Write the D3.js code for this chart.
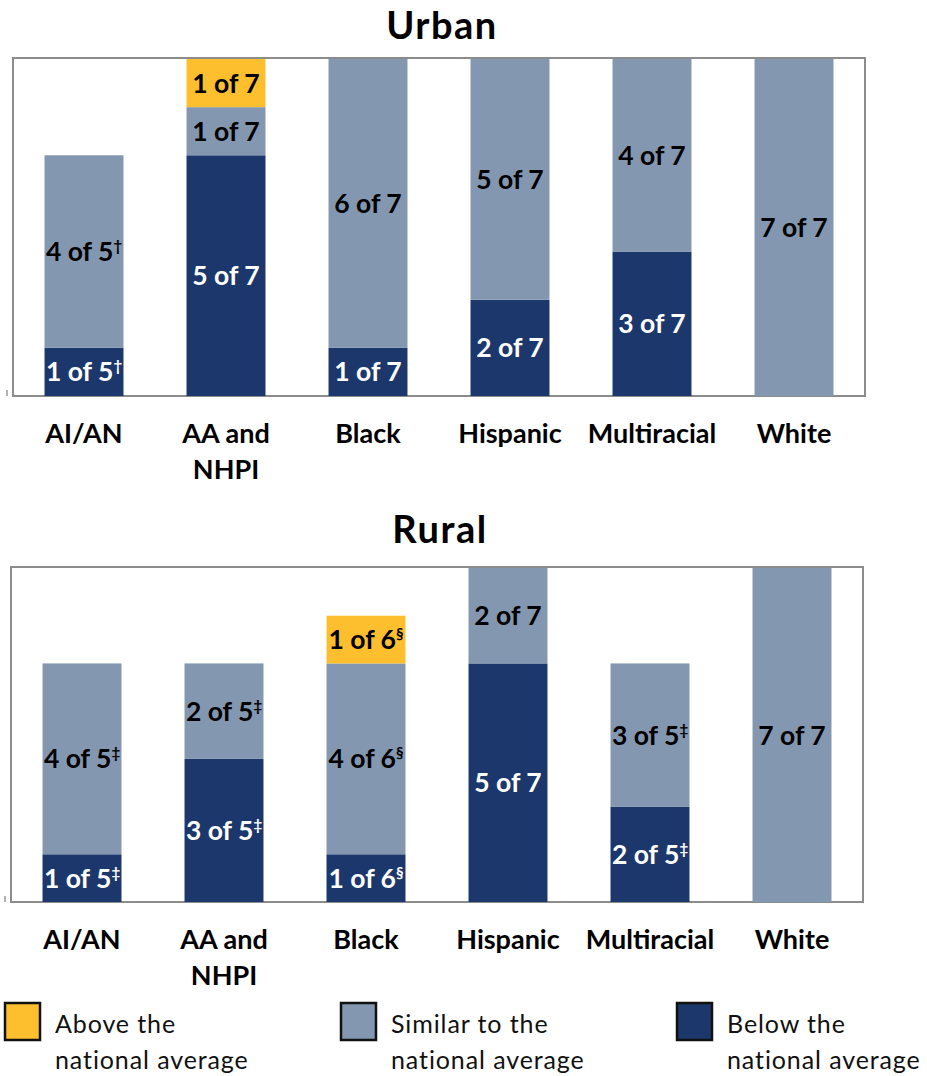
<!DOCTYPE html>
<html>
<head>
<meta charset="utf-8">
<script src="https://cdn.jsdelivr.net/npm/d3@7"></script>
<style>
  html, body { margin: 0; padding: 0; background: #fff; }
  svg { display: block; font-family: Lato, "Open Sans", sans-serif; }
</style>
</head>
<body>
<svg id="chart" width="927" height="1076"></svg>
<script>
// ---------- data ----------
const categories = ["AI/AN", "AA and\nNHPI", "Black", "Hispanic", "Multiracial", "White"];
const seriesKeys = ["below", "similar", "above"];
const seriesNames = ["Below the\nnational average", "Similar to the\nnational average", "Above the\nnational average"];

const urbanBelow   = [1, 5, 1, 2, 3, 0];
const urbanSimilar = [4, 1, 6, 5, 4, 7];
const urbanAbove   = [0, 1, 0, 0, 0, 0];
const urbanTotal   = [5, 7, 7, 7, 7, 7];
const urbanMark    = ["\u2020", "", "", "", "", ""];

const ruralBelow   = [1, 3, 1, 5, 2, 0];
const ruralSimilar = [4, 2, 4, 2, 3, 7];
const ruralAbove   = [0, 0, 1, 0, 0, 0];
const ruralTotal   = [5, 5, 6, 7, 5, 7];
const ruralMark    = ["\u2021", "\u2021", "\u00A7", "", "\u2021", ""];

const yMax = 7;

// ---------- style ----------
const colors = { below: "#1c376b", similar: "#8497b0", above: "#fdbf2d" };
const textColors = { below: "#ffffff", similar: "#000000", above: "#000000" };
const frameColor = "#8c8c8c";

const svg = d3.select("#chart");

function buildRows(below, similar, above, total, mark) {
  return categories.map((c, i) => ({
    cat: c, below: below[i], similar: similar[i], above: above[i], total: total[i], mark: mark[i]
  }));
}

function drawPanel(opts) {
  const { title, titleY, x0, x1, yTop, yBottom, rows } = opts;
  const x = d3.scaleBand().domain(categories).range([x0, x1]).paddingInner(0.444).paddingOuter(0.222);
  const y = d3.scaleLinear().domain([0, yMax]).range([yBottom, yTop]);
  const g = svg.append("g");

  // title
  g.append("text")
    .attr("x", (x0 + x1) / 2 + 3).attr("y", titleY)
    .attr("text-anchor", "middle")
    .attr("font-size", 38).attr("font-weight", 700).attr("letter-spacing", 1.5)
    .text(title);

  // frame
  g.append("rect")
    .attr("x", x0).attr("y", yTop - 1)
    .attr("width", x1 - x0).attr("height", yBottom - yTop + 1)
    .attr("fill", "#fff").attr("stroke", frameColor).attr("stroke-width", 2);

  // small stub tick
  g.append("line")
    .attr("x1", x0 - 6).attr("x2", x0 - 6)
    .attr("y1", y(0) - 6).attr("y2", y(0))
    .attr("stroke", "#999").attr("stroke-width", 1.5);

  const stack = d3.stack().keys(seriesKeys);
  const layers = stack(rows);

  const layerG = g.selectAll("g.layer").data(layers).join("g").attr("class", "layer")
    .attr("fill", d => colors[d.key]);

  layerG.selectAll("rect").data(d => d.filter(s => s[1] - s[0] > 0))
    .join("rect")
    .attr("x", d => x(d.data.cat))
    .attr("width", x.bandwidth())
    .attr("y", d => y(d[1]))
    .attr("height", d => y(d[0]) - y(d[1]));

  // labels
  layers.forEach(layer => {
    layer.filter(s => s[1] - s[0] > 0).forEach(s => {
      const cy = (y(s[0]) + y(s[1])) / 2;
      const t = g.append("text")
        .attr("x", x(s.data.cat) + x.bandwidth() / 2)
        .attr("y", cy + 9.5)
        .attr("text-anchor", "middle")
        .attr("font-size", 26.5).attr("font-weight", 700)
        .attr("fill", textColors[layer.key]);
      t.append("tspan").text((s[1] - s[0]) + " of " + s.data.total);
      if (s.data.mark) {
        t.append("tspan").attr("dy", -10).attr("font-size", 15).text(s.data.mark);
      }
    });
  });

  // category labels (axis)
  const axis = d3.axisBottom(x).tickSize(0).tickPadding(0);
  const axG = g.append("g").attr("transform", `translate(0,${yBottom})`).call(axis);
  axG.select(".domain").remove();
  axG.selectAll(".tick text").each(function(d) {
    const el = d3.select(this);
    el.text(null)
      .attr("y", 47).attr("dy", null)
      .attr("font-family", "Lato, sans-serif")
      .attr("font-size", 27).attr("font-weight", 700).attr("fill", "#000");
    d.split("\n").forEach((line, i) => {
      el.append("tspan").attr("x", 0).attr("dy", i === 0 ? 0 : 36).text(line);
    });
  });
}

drawPanel({
  title: "Urban", titleY: 39, x0: 13, x1: 865, yTop: 59, yBottom: 396,
  rows: buildRows(urbanBelow, urbanSimilar, urbanAbove, urbanTotal, urbanMark)
});
drawPanel({
  title: "Rural", titleY: 543, x0: 11, x1: 863, yTop: 568, yBottom: 902,
  rows: buildRows(ruralBelow, ruralSimilar, ruralAbove, ruralTotal, ruralMark)
});

// ---------- legend ----------
const legendOrder = ["above", "similar", "below"];
const legendX = d3.scalePoint().domain(legendOrder).range([4, 676]);
const lg = svg.append("g");
legendOrder.forEach(k => {
  const lx = legendX(k);
  lg.append("rect")
    .attr("x", lx + 1).attr("y", 1003)
    .attr("width", 35).attr("height", 37)
    .attr("fill", colors[k]).attr("stroke", "#111").attr("stroke-width", 2.5);
  const name = seriesNames[seriesKeys.indexOf(k)].split("\n");
  const t = lg.append("text")
    .attr("x", lx + 51).attr("y", 1033)
    .attr("font-size", 25).attr("letter-spacing", 0.9).attr("fill", "#111");
  name.forEach((line, i) => {
    t.append("tspan").attr("x", lx + 51).attr("dy", i === 0 ? 0 : 36).text(line);
  });
});
</script>
</body>
</html>
